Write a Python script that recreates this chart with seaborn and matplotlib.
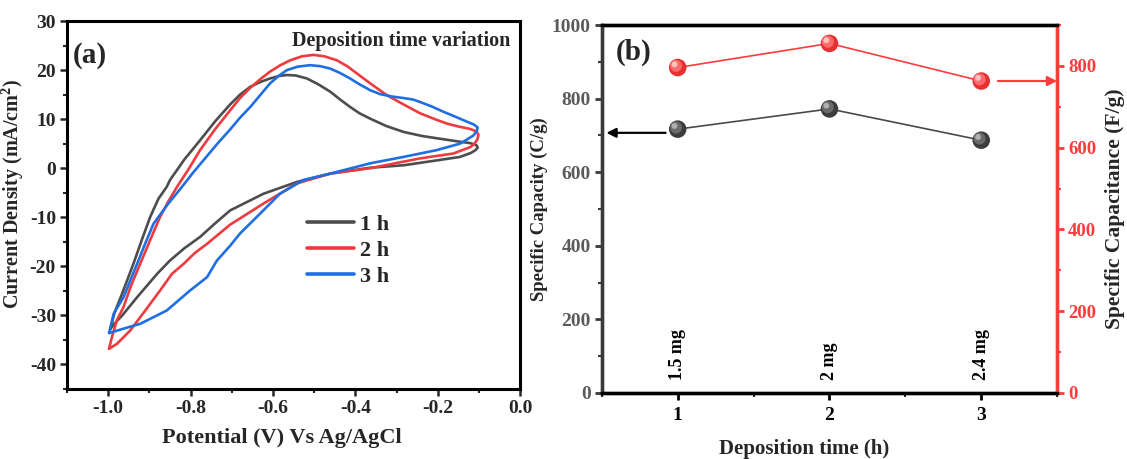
import numpy as np
import pandas as pd
import matplotlib
matplotlib.use("Agg")
import matplotlib.pyplot as plt
import seaborn as sns
from matplotlib.transforms import ScaledTranslation
from matplotlib.ticker import MultipleLocator

# ---------------- data: panel (a) CV loops (potential V, current density mA/cm2) -------------
v_1h = [-0.995, -0.985, -0.966, -0.939, -0.918, -0.898, -0.878, -0.858, -0.850, -0.815, -0.777,
        -0.740, -0.704, -0.680, -0.655, -0.630, -0.607, -0.585, -0.566, -0.545, -0.518, -0.490,
        -0.461, -0.437, -0.413, -0.390, -0.364, -0.325, -0.283, -0.240, -0.202, -0.170, -0.146,
        -0.120, -0.106, -0.103, -0.108, -0.120, -0.146, -0.202, -0.283, -0.364, -0.461, -0.542,
        -0.623, -0.704, -0.740, -0.777, -0.815, -0.850, -0.881, -0.930, -0.966, -0.985, -0.995]
i_1h = [-32.8, -29.5, -25.5, -19.5, -14.5, -9.9, -6.2, -3.8, -2.4, 1.8, 5.7,
        9.6, 13.0, 15.0, 16.6, 17.6, 18.3, 18.8, 19.0, 18.9, 18.3, 17.1,
        15.6, 14.0, 12.5, 11.2, 10.1, 8.6, 7.4, 6.6, 6.1, 5.7, 5.4,
        5.1, 4.7, 4.2, 3.7, 3.1, 2.3, 1.6, 0.6, 0.1, -1.1, -2.8,
        -5.2, -8.6, -11.2, -14.0, -16.3, -18.8, -21.5, -26.3, -30.0, -31.7, -32.8]

v_2h = [-0.998, -0.991, -0.979, -0.963, -0.945, -0.922, -0.898, -0.874, -0.853, -0.833, -0.805,
        -0.777, -0.740, -0.704, -0.680, -0.655, -0.630, -0.607, -0.582, -0.558, -0.530, -0.502,
        -0.475, -0.445, -0.420, -0.396, -0.364, -0.324, -0.283, -0.243, -0.210, -0.178, -0.150,
        -0.121, -0.106, -0.101, -0.104, -0.112, -0.121, -0.162, -0.243, -0.364, -0.461, -0.542,
        -0.623, -0.704, -0.760, -0.790, -0.817, -0.845, -0.874, -0.910, -0.947, -0.979, -0.998]
i_2h = [-36.8, -34.4, -31.0, -28.3, -24.0, -19.4, -14.6, -9.9, -6.6, -3.8, -0.2,
        3.7, 8.0, 11.8, 14.3, 16.4, 18.2, 19.7, 21.0, 22.0, 22.8, 23.1,
        22.8, 22.0, 20.8, 19.3, 17.3, 14.9, 13.0, 11.2, 10.1, 9.1, 8.5,
        8.0, 7.5, 6.8, 5.8, 4.9, 4.3, 3.0, 2.0, 0.0, -1.1, -3.1,
        -7.2, -11.5, -15.4, -17.3, -19.5, -21.5, -24.9, -29.0, -33.1, -35.8, -36.8]

v_3h = [-0.998, -0.987, -0.963, -0.930, -0.910, -0.890, -0.855, -0.821, -0.795, -0.769, -0.735,
        -0.704, -0.680, -0.655, -0.630, -0.607, -0.585, -0.566, -0.540, -0.510, -0.485, -0.461,
        -0.437, -0.413, -0.390, -0.364, -0.340, -0.310, -0.283, -0.260, -0.243, -0.215, -0.186,
        -0.160, -0.138, -0.112, -0.103, -0.105, -0.113, -0.130, -0.146, -0.202, -0.283, -0.364,
        -0.461, -0.526, -0.583, -0.639, -0.680, -0.704, -0.736, -0.760, -0.801, -0.858, -0.922,
        -0.963, -0.998]
i_3h = [-33.6, -29.7, -26.3, -19.5, -15.3, -11.3, -7.3, -3.8, -1.0, 1.6, 5.0,
        7.9, 10.3, 12.5, 15.0, 17.3, 18.9, 20.0, 20.7, 21.0, 20.8, 20.3,
        19.4, 18.3, 17.1, 15.9, 15.1, 14.6, 14.3, 14.0, 13.5, 12.6, 11.5,
        10.6, 9.8, 8.9, 8.3, 7.6, 6.7, 5.8, 5.0, 3.7, 2.3, 1.0,
        -1.1, -2.4, -5.2, -9.9, -13.3, -15.8, -18.8, -22.2, -24.9, -29.0, -31.7,
        -32.7, -33.6]

cv_labels = ["1 h", "2 h", "3 h"]
cv_colors = ["#4d4d4d", "#ee3b3f", "#1f6fe3"]

# ---------------- data: panel (b) ----------------
dep_time = [1, 2, 3]
capacity = [717, 772, 687]          # C/g (left axis)
capacitance = [796, 855, 763]       # F/g (right axis)
mass_labels = ["1.5 mg", "2 mg", "2.4 mg"]

# ---------------- style ----------------
sns.set_style("ticks")
plt.rcParams["font.family"] = ["Liberation Serif", "DejaVu Serif"]
plt.rcParams["font.weight"] = "bold"
plt.rcParams["axes.labelweight"] = "bold"
plt.rcParams["axes.unicode_minus"] = False
plt.rcParams["mathtext.fontset"] = "custom"
plt.rcParams["mathtext.rm"] = "Liberation Serif:bold"
plt.rcParams["mathtext.bf"] = "Liberation Serif:bold"
plt.rcParams["mathtext.default"] = "bf"

fig = plt.figure(figsize=(11.27, 4.59), dpi=100)
axa = fig.add_axes([0.0595, 0.1525, 0.402, 0.8017])
axb = fig.add_axes([0.534, 0.1438, 0.404, 0.8017])

# ---------------- panel (a) ----------------
for v, i, lab, col in zip([v_1h, v_2h, v_3h], [i_1h, i_2h, i_3h], cv_labels, cv_colors):
    df = pd.DataFrame({"V": v, "I": i})
    sns.lineplot(data=df, x="V", y="I", sort=False, estimator=None, color=col,
                 lw=1.9, label=lab, ax=axa)

axa.set_xlim(-1.1, 0.0)
axa.set_ylim(-45, 30)
axa.xaxis.set_major_locator(MultipleLocator(0.2))
axa.xaxis.set_minor_locator(MultipleLocator(0.1))
axa.yaxis.set_major_locator(MultipleLocator(10))
axa.yaxis.set_minor_locator(MultipleLocator(5))
axa.set_xticks(np.round(np.arange(-1.0, 0.01, 0.2), 1))
axa.set_xticklabels(["-1.0", "-0.8", "-0.6", "-0.4", "-0.2", "0.0"])
axa.set_xlabel("Potential (V) Vs Ag/AgCl", fontsize=16, fontweight="bold")
axa.xaxis.set_label_coords(0.475, -0.105)
axa.set_ylabel("Current Density (mA/cm$^2$)", fontsize=14.5, fontweight="bold")
axa.yaxis.set_label_coords(-0.09, 0.53)
for s in axa.spines.values():
    s.set_linewidth(2.2)
    s.set_color("black")
axa.tick_params(axis="both", which="major", direction="out", length=5, width=1.8,
                labelsize=14, pad=3)
axa.tick_params(axis="both", which="minor", direction="out", length=3, width=1.5)
for t in axa.get_xticklabels() + axa.get_yticklabels():
    t.set_fontweight("bold")
axa.text(0.012, 0.905, "(a)", transform=axa.transAxes, fontsize=21, fontweight="bold",
         va="center", ha="left")
axa.text(0.978, 0.945, "Deposition time variation", transform=axa.transAxes, fontsize=14.5,
         fontweight="bold", va="center", ha="right")
leg = axa.legend(loc="upper left", bbox_to_anchor=(0.505, 0.505), frameon=False,
                 handlelength=2.1, fontsize=16, labelspacing=0.25, handletextpad=0.3,
                 borderpad=0)
for line in leg.get_lines():
    line.set_linewidth(2.6)
for t in leg.get_texts():
    t.set_fontweight("bold")

# ---------------- panel (b) ----------------
dfb = pd.DataFrame({"t": dep_time, "cap": capacity, "capac": capacitance})
gray = "#4a4a4a"
red = "#ff3b3b"

sns.lineplot(data=dfb, x="t", y="cap", color=gray, lw=1.2, ax=axb, zorder=2)
axr = axb.twinx()
sns.lineplot(data=dfb, x="t", y="capac", color=red, lw=1.2, ax=axr, zorder=2)


def balls(ax, ycol, base, mid, light):
    sns.scatterplot(data=dfb, x="t", y=ycol, color=base, s=160, edgecolor="none", ax=ax,
                    zorder=3, legend=False)
    layers = [(mid, 75, -1.2, 1.2), (light, 18, -2.3, 2.3)]
    for col, size, dx, dy in layers:
        n0 = len(ax.collections)
        sns.scatterplot(data=dfb, x="t", y=ycol, color=col, s=size, edgecolor="none",
                        ax=ax, zorder=4, legend=False)
        coll = ax.collections[n0]
        coll.set_offset_transform(ax.transData + ScaledTranslation(dx / 72, dy / 72,
                                                                   fig.dpi_scale_trans))


balls(axb, "cap", "#3c3c3c", "#6a6a6a", "#b0b0b0")
balls(axr, "capac", "#e83030", "#ff6a6a", "#ffc0c0")

axb.set_xlim(0.5, 3.5)
axb.set_ylim(0, 1000)
axr.set_ylim(0, 900)
axb.set_xticks(dep_time)
axb.xaxis.set_minor_locator(MultipleLocator(0.5))
axb.yaxis.set_major_locator(MultipleLocator(200))
axb.yaxis.set_minor_locator(MultipleLocator(100))
axr.yaxis.set_major_locator(MultipleLocator(200))
axr.yaxis.set_minor_locator(MultipleLocator(100))
axr.set_yticks([0, 200, 400, 600, 800])

axb.set_xlabel("Deposition time (h)", fontsize=15, fontweight="bold")
axb.xaxis.set_label_coords(0.445, -0.125)
axb.set_ylabel("Specific Capacity (C/g)", fontsize=13.5, fontweight="bold", labelpad=3)
axr.set_ylabel("Specific Capacitance (F/g)", fontsize=15.5, fontweight="bold", labelpad=6)

for s in list(axb.spines.values()) + list(axr.spines.values()):
    s.set_linewidth(2.4)
axb.spines["top"].set_color("black")
axb.spines["bottom"].set_color("black")
axb.spines["left"].set_color("#3a3a3a")
axr.spines["top"].set_color("black")
axr.spines["bottom"].set_color("black")
axr.spines["left"].set_color("#3a3a3a")
axr.spines["right"].set_color(red)
axb.spines["right"].set_color(red)

axb.tick_params(axis="x", which="major", direction="out", length=5, width=2, labelsize=14,
                pad=5, colors="black")
axb.tick_params(axis="x", which="minor", direction="out", length=3, width=1.5)
axb.tick_params(axis="y", which="major", direction="out", length=5, width=2, labelsize=14,
                pad=3, color="#3a3a3a", labelcolor="#5a5a5a")
axb.tick_params(axis="y", which="minor", direction="out", length=3, width=1.5, color="#3a3a3a")
axr.tick_params(axis="y", which="major", direction="out", length=5, width=2, labelsize=13.5,
                pad=3, color=red, labelcolor=red)
axr.tick_params(axis="y", which="minor", direction="out", length=3, width=1.5, color=red)
for t in axb.get_xticklabels() + axb.get_yticklabels() + axr.get_yticklabels():
    t.set_fontweight("bold")

for x, lab in zip(dep_time, mass_labels):
    axb.text(x, 35, lab, rotation=90, ha="center", va="bottom", fontsize=13,
             fontweight="bold", color="black")

axb.text(0.03, 0.925, "(b)", transform=axb.transAxes, fontsize=21, fontweight="bold",
         va="center", ha="left")

# indicator arrows
axb.annotate("", xy=(0.53, 707), xytext=(0.92, 707),
             arrowprops=dict(arrowstyle="-|>", color="black", lw=1.6,
                             mutation_scale=14, shrinkA=0, shrinkB=0))
axr.annotate("", xy=(3.5, 763), xytext=(3.11, 763),
             arrowprops=dict(arrowstyle="-|>", color=red, lw=1.6,
                             mutation_scale=14, shrinkA=0, shrinkB=0))

fig.savefig("out.png", dpi=100)
